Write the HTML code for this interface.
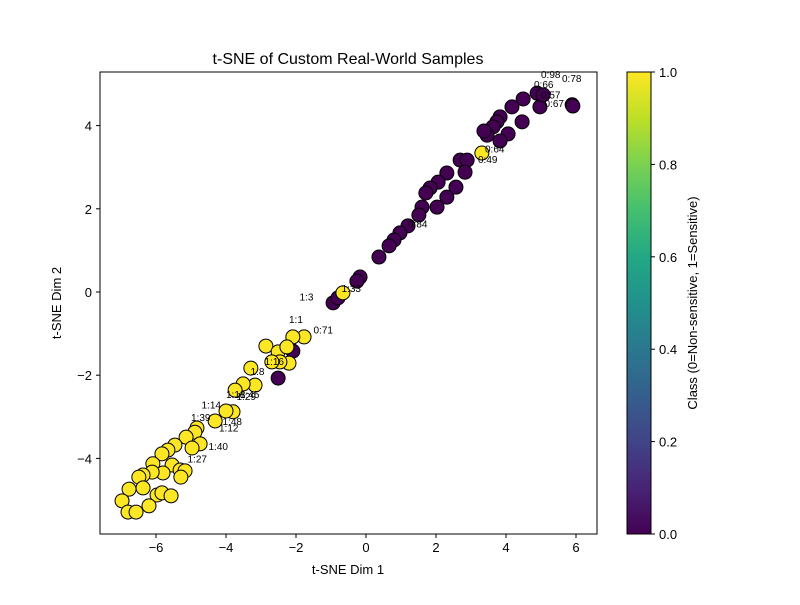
<!DOCTYPE html>
<html><head><meta charset="utf-8"><style>
body{margin:0;background:#fff;}
svg text{font-family:"Liberation Sans","DejaVu Sans",sans-serif;}
</style></head><body>
<svg id="chart" width="800" height="600" xmlns="http://www.w3.org/2000/svg">
<defs>
<linearGradient id="viridis" x1="0" y1="1" x2="0" y2="0">
<stop offset="0" stop-color="#440154"/><stop offset="0.1" stop-color="#482475"/>
<stop offset="0.2" stop-color="#414487"/><stop offset="0.3" stop-color="#355f8d"/>
<stop offset="0.4" stop-color="#2a788e"/><stop offset="0.5" stop-color="#21918c"/>
<stop offset="0.6" stop-color="#22a884"/><stop offset="0.7" stop-color="#44bf70"/>
<stop offset="0.8" stop-color="#7ad151"/><stop offset="0.9" stop-color="#bddf26"/>
<stop offset="1" stop-color="#fde725"/></linearGradient>
</defs>
<text x="348" y="64" font-size="16" text-anchor="middle">t-SNE of Custom Real-World Samples</text>
<g id="points"></g>
<g id="labels"></g>
<rect x="100" y="72" width="497" height="462" fill="none" stroke="#000" stroke-width="1"/>
<g id="xticks"></g>
<g id="yticks"></g>
<text x="348" y="574" font-size="13" text-anchor="middle">t-SNE Dim 1</text>
<text transform="translate(61,303) rotate(-90)" font-size="13" text-anchor="middle">t-SNE Dim 2</text>
<rect x="627" y="72" width="24" height="462" fill="url(#viridis)" stroke="#000" stroke-width="1"/>
<g id="cticks"></g>
<text transform="translate(697,303) rotate(-90)" font-size="13" text-anchor="middle">Class (0=Non-sensitive, 1=Sensitive)</text>
</svg>
<script>
const purpleX=[4.49,4.17,4.97,4.89,5.06,5.89,5.91,4.46,3.83,3.74,3.63,4.06,3.46,3.83,3.37,2.69,2.89,2.83,2.31,2.06,2.57,1.83,1.71,2.31,1.60,2.03,1.51,1.20,0.97,0.80,0.66,0.37,-0.17,-0.26,-0.94,-0.80,-2.09,-2.51];
const purpleY=[4.64,4.45,4.45,4.78,4.74,4.50,4.47,4.09,4.21,4.09,3.97,3.80,3.77,3.63,3.87,3.17,3.17,2.88,2.86,2.64,2.52,2.50,2.38,2.28,2.04,2.04,1.85,1.59,1.42,1.25,1.11,0.84,0.36,0.26,-0.26,-0.14,-1.42,-2.07];
const yellowX=[3.31,-0.66,-1.77,-2.09,-2.86,-2.51,-2.26,-2.20,-2.46,-2.69,-3.29,-3.17,-3.51,-3.74,-3.80,-4.00,-4.31,-4.83,-4.89,-5.14,-4.74,-4.97,-5.46,-5.66,-5.83,-6.09,-5.54,-5.31,-5.17,-5.80,-6.11,-6.37,-6.49,-5.29,-6.37,-6.77,-5.97,-5.83,-5.57,-6.97,-6.20,-6.80,-6.57];
const yellowY=[3.34,-0.02,-1.08,-1.08,-1.30,-1.44,-1.32,-1.71,-1.68,-1.68,-1.83,-2.24,-2.21,-2.36,-2.88,-2.86,-3.10,-3.27,-3.37,-3.49,-3.65,-3.75,-3.68,-3.80,-3.89,-4.13,-4.16,-4.28,-4.30,-4.35,-4.33,-4.40,-4.45,-4.45,-4.71,-4.74,-4.88,-4.83,-4.90,-5.02,-5.14,-5.29,-5.29];
const labelText=["1:1","0:71","1:33","1:3","1:8","1:45","1:14","1:48","1:12","1:40","1:27","0:98","0:78","0:66","0:57","0:64","0:49","0:84","1:16","1:29","1:18","1:39","0:67"];
const labelX=[-2.2,-1.5,-0.7,-1.9,-3.3,-3.6,-4.7,-4.1,-4.2,-4.5,-5.1,5.0,5.6,4.8,5.0,3.4,3.2,1.2,-2.9,-3.7,-4.0,-5.0,5.1];
const labelY=[-0.75,-1.0,0.0,-0.2,-2.0,-2.55,-2.8,-3.2,-3.35,-3.8,-4.1,5.15,5.05,4.9,4.65,3.35,3.1,1.55,-1.75,-2.6,-2.55,-3.1,4.45];
const xTicks=[-6,-4,-2,0,2,4,6];
const yTicks=[-4,-2,0,2,4];
const cTicks=[0.0,0.2,0.4,0.6,0.8,1.0];
const NS="http://www.w3.org/2000/svg";
const sx=v=>366+v*35, sy=v=>292-v*41.6, cy=v=>534-v*462;
function mk(tag,attrs,parent){const e=document.createElementNS(NS,tag);for(const k in attrs)e.setAttribute(k,attrs[k]);parent.appendChild(e);return e;}
const pts=document.getElementById('points');
purpleX.forEach((x,i)=>{const c=mk('circle',{cx:sx(x),cy:sy(purpleY[i]),r:7,fill:'#440154',stroke:'#000','stroke-width':1},pts);

});
yellowX.forEach((x,i)=>{const c=mk('circle',{cx:sx(x),cy:sy(yellowY[i]),r:7,fill:'#fde725',stroke:'#000','stroke-width':1},pts);

});
const lg=document.getElementById('labels');
labelText.forEach((t,i)=>{const e=mk('text',{x:sx(labelX[i]),y:sy(labelY[i]),'font-size':10},lg);e.textContent=t;

});
const xg=document.getElementById('xticks');
xTicks.forEach(v=>{mk('line',{x1:sx(v),x2:sx(v),y1:534,y2:538,stroke:'#000'},xg);const t=mk('text',{x:sx(v),y:552,'font-size':13,'text-anchor':'middle'},xg);t.textContent=v<0?'\u2212'+(-v):v;

});
const yg=document.getElementById('yticks');
yTicks.forEach(v=>{mk('line',{x1:96,x2:100,y1:sy(v),y2:sy(v),stroke:'#000'},yg);const t=mk('text',{x:92,y:sy(v)+5,'font-size':13,'text-anchor':'end'},yg);t.textContent=v<0?'\u2212'+(-v):v;

});
const cg=document.getElementById('cticks');
cTicks.forEach(v=>{mk('line',{x1:651,x2:655,y1:cy(v),y2:cy(v),stroke:'#000'},cg);const t=mk('text',{x:659,y:cy(v)+5,'font-size':13},cg);t.textContent=v.toFixed(1);

});
</script>
</body></html>
